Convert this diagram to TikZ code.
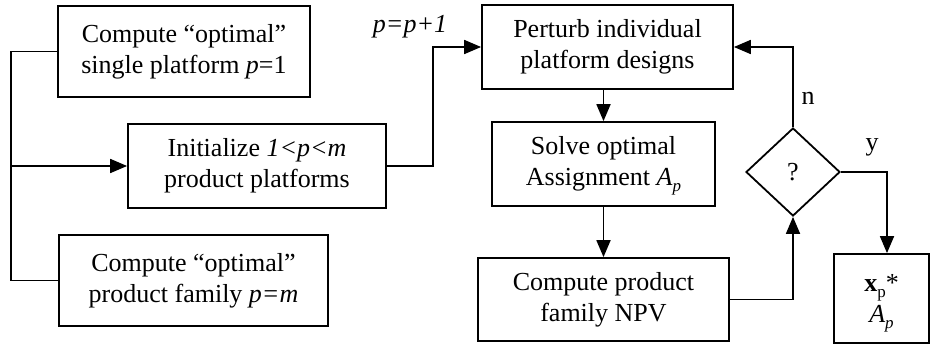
\documentclass[tikz,border=0pt]{standalone}
\usepackage{fontspec}
\setmainfont{Liberation Serif}
\usetikzlibrary{arrows.meta,shapes.geometric}
\newcommand{\subit}[1]{\raisebox{-0.22em}[0pt][0pt]{\fontsize{17}{17}\selectfont\textit{#1}}}
\newcommand{\subup}[1]{\raisebox{-0.22em}[0pt][0pt]{\fontsize{17}{17}\selectfont #1}}
\begin{document}
\begin{tikzpicture}[x=1pt,y=-1pt,
  every node/.style={font=\fontsize{26}{31}\selectfont},
  box/.style={draw,line width=1.8pt,rectangle,align=center,inner sep=0pt},
  dec/.style={draw,line width=1.8pt,diamond,aspect=1.07,minimum width=94pt,minimum height=88pt,inner sep=0pt},
  flow/.style={line width=1.8pt,-{Triangle[length=17pt,width=14pt]}},
  wire/.style={line width=1.8pt}]
\useasboundingbox (0,0) rectangle (930,345);

% left column: the two extreme cases and the initial guess
\node[box,minimum width=252pt,minimum height=91pt] (single) at (184,51.5)
  {Compute “optimal”\\single platform \textit{p}=1};
\node[box,minimum width=258pt,minimum height=84pt] (init) at (257,166)
  {Initialize \textit{1<p<m}\\product platforms};
\node[box,minimum width=269pt,minimum height=91pt] (family) at (193.5,280.5)
  {Compute “optimal”\\product family \textit{p=m}};

% main loop
\node[box,minimum width=251pt,minimum height=84pt] (perturb) at (607.5,47)
  {Perturb individual\\platform designs};
\node[box,minimum width=223pt,minimum height=84pt] (solve) at (603.5,164)
  {Solve optimal\\Assignment \textit{A}\subit{p}};
\node[box,minimum width=251pt,minimum height=83pt] (npv) at (603.5,299.5)
  {Compute product\\family NPV};
\node[dec] (check) at (793,172) {?};
\node[box,minimum width=95pt,minimum height=89pt,
      font=\fontsize{26}{31}\selectfont] (result) at (881.5,298.5)
  {\textbf{x}\subup{p}*\\\textit{A}\subit{p}};

% labels
\node (incr) at (410,27) {\textit{p=p+1}};
\node (no) at (808,98) {n};
\node (yes) at (872,147) {y};

% connectors
\coordinate (bus) at (11,166);
\draw[wire] (single.west) -| (bus) |- (family.west);
\draw[flow] (bus) -- (init.west);
\draw[flow] (init.east) -- (433,166) |- (perturb.west);
\draw[flow] (solve.north |- perturb.south) -- (solve.north);
\draw[flow] (solve.south) -- (npv.north);
\draw[flow] (npv.east) -| (check.south);
\draw[flow] (check.north) |- (perturb.east);
\coordinate (drop) at (887,172);
\draw[flow] (check.east) -- (drop) -- (drop |- result.north);
\end{tikzpicture}
\end{document}
